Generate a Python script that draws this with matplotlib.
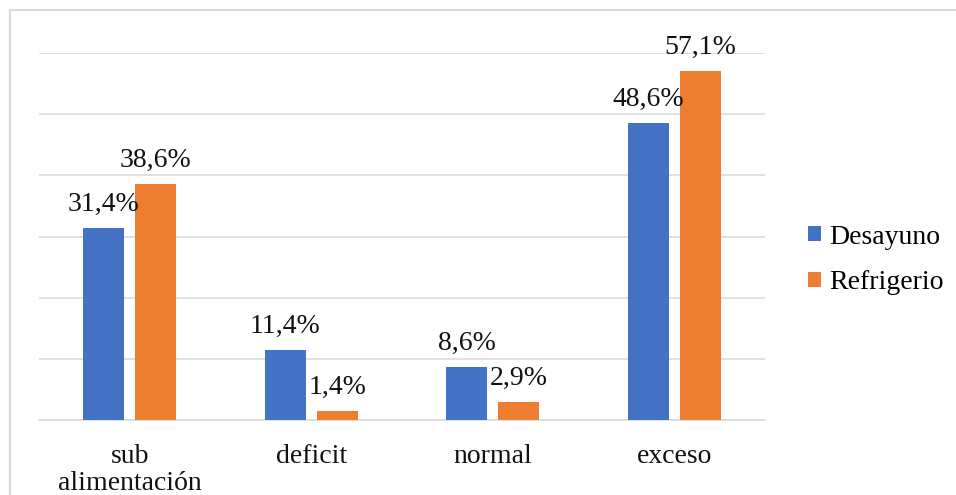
import matplotlib.pyplot as plt
from matplotlib.patches import Rectangle
import numpy as np

categorias = ["sub\nalimentación", "deficit", "normal", "exceso"]
desayuno = [31.4, 11.4, 8.6, 48.6]
refrigerio = [38.6, 1.4, 2.9, 57.1]
etiquetas_des = ["31,4%", "11,4%", "8,6%", "48,6%"]
etiquetas_ref = ["38,6%", "1,4%", "2,9%", "57,1%"]

azul = "#4472C4"
naranja = "#ED7D31"
gris = "#D9D9D9"

plt.rcParams["font.family"] = ["Liberation Serif", "DejaVu Serif"]

fig = plt.figure(figsize=(9.56, 4.95), dpi=100)
ax = fig.add_axes([39 / 956, 1 - 420 / 495, 726 / 956, 367 / 495])

x = np.arange(len(categorias))
ancho = 0.225
desp = 0.143
b1 = ax.bar(x - desp, desayuno, ancho, color=azul, label="Desayuno", zorder=3)
b2 = ax.bar(x + desp, refrigerio, ancho, color=naranja, label="Refrigerio", zorder=3)

for barras, textos in ((b1, etiquetas_des), (b2, etiquetas_ref)):
    for b, t in zip(barras, textos):
        ax.annotate(t, (b.get_x() + b.get_width() / 2, b.get_height()),
                    xytext=(0, 17), textcoords="offset points",
                    ha="center", va="center", fontsize=20, color="#111111")

ax.set_xlim(-0.5, 3.5)
ax.set_ylim(0, 60)
ax.set_yticks(np.arange(0, 61, 10))
ax.yaxis.grid(True, color=gris, linewidth=1.1, zorder=0)
ax.tick_params(axis="y", left=False, labelleft=False)
ax.tick_params(axis="x", length=0, pad=17)
ax.set_xticks(x)
ax.set_xticklabels(categorias, fontsize=20, linespacing=1.1, color="#111111")
for s in ["top", "right", "left"]:
    ax.spines[s].set_visible(False)
ax.spines["bottom"].set_color(gris)
ax.spines["bottom"].set_linewidth(1.1)

leg = fig.legend(loc="center left", bbox_to_anchor=(808 / 956, 1 - 260 / 495),
                 frameon=False, fontsize=20, handlelength=0.45, handleheight=0.45,
                 handletextpad=0.3, labelspacing=0.74, borderpad=0, borderaxespad=0)

# marco exterior del gráfico
fig.patches.append(Rectangle((9.5 / 956, -0.05), 2, 1 - 10 / 495 + 0.05,
                             transform=fig.transFigure, fill=False,
                             edgecolor=gris, linewidth=1.5))

fig.savefig("out.png", dpi=100)
